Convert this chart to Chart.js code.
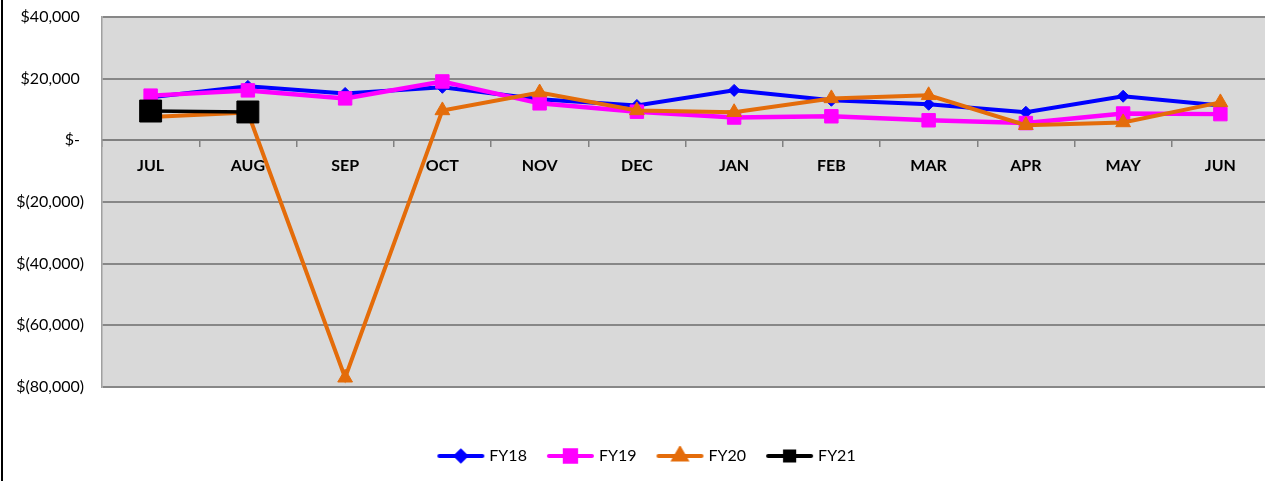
<!DOCTYPE html>
<html>
<head>
<meta charset="utf-8">
<script src="https://cdn.jsdelivr.net/npm/chart.js@4.4.1/dist/chart.umd.min.js"></script>
<style>
  html, body { margin: 0; padding: 0; background: #fff; overflow: hidden; }
  #wrap { position: relative; width: 1265px; height: 481px; overflow: hidden; }
  #frame { position: absolute; left: 1px; top: 0; width: 2px; height: 481px; background: #000; }
  canvas { position: absolute; left: 0; top: 0; }
</style>
</head>
<body>
<div id="wrap">
  <canvas id="chart" width="1296" height="481"></canvas>
  <div id="frame"></div>
</div>
<script>
const months = ['JUL', 'AUG', 'SEP', 'OCT', 'NOV', 'DEC', 'JAN', 'FEB', 'MAR', 'APR', 'MAY', 'JUN'];
const fy18 = [14000, 17500, 15200, 17200, 13300, 11300, 16200, 13000, 11700, 9100, 14300, 11300];
const fy19 = [14500, 16200, 13600, 19100, 12000, 9300, 7400, 7800, 6500, 5600, 8700, 8500];
const fy20 = [7600, 9000, -77000, 9700, 15500, 9700, 9100, 13600, 14600, 4900, 5800, 12300];
const fy21 = [9500, 9200];
const yTicks = [40000, 20000, 0, -20000, -40000, -60000, -80000];

const series = [
  { label: 'FY18', data: fy18, color: '#0000FF', style: 'rectRot', radius: 6, width: 4, order: 3, legendRadius: 5 },
  { label: 'FY19', data: fy19, color: '#FF00FF', style: 'rect', radius: 9.5, width: 4.5, order: 2, legendRadius: 8 },
  { label: 'FY20', data: fy20, color: '#E46C0A', style: 'triangle', radius: 8.5, width: 4, order: 1, legendRadius: 7 },
  { label: 'FY21', data: fy21, color: '#000000', style: 'rect', radius: 15.5, width: 3.5, order: 0, legendRadius: 6.5 },
];

// money format like the spreadsheet: $40,000 / $- / $(20,000)
function money(v) {
  if (v === 0) return '$- ';
  const s = Math.abs(v).toLocaleString('en-US');
  return v < 0 ? '$(' + s + ')' : '$' + s + ' ';
}

// legend key: a short line with the marker in the middle
function legendIcon(s) {
  const c = document.createElement('canvas');
  c.width = 49;
  c.height = 20;
  const ctx = c.getContext('2d');
  ctx.strokeStyle = s.color;
  ctx.fillStyle = s.color;
  ctx.lineWidth = 4;
  ctx.lineCap = 'round';
  ctx.beginPath();
  ctx.moveTo(3, 10);
  ctx.lineTo(46, 10);
  ctx.stroke();
  Chart.helpers.drawPoint(ctx, { pointStyle: s.style, radius: s.legendRadius, borderWidth: 1 }, 24.5, 10);
  return c;
}
const icons = series.map(legendIcon);

const plotBackground = {
  id: 'plotBackground',
  beforeDraw(chart) {
    const { ctx, chartArea } = chart;
    ctx.save();
    ctx.fillStyle = '#D9D9D9';
    ctx.fillRect(chartArea.left, chartArea.top, chartArea.right - chartArea.left, chartArea.bottom - chartArea.top);
    ctx.restore();
  },
};

// keep the axes from pushing the plot area around
function noPadding(scale) {
  scale.paddingTop = 0;
  scale.paddingBottom = 0;
  scale.paddingLeft = 0;
  scale.paddingRight = 0;
}

Chart.defaults.font.family = 'Lato, "Open Sans", sans-serif';
Chart.defaults.color = '#000';

new Chart(document.getElementById('chart'), {
  type: 'line',
  data: {
    labels: months,
    datasets: series.map((s) => ({
      label: s.label,
      data: s.data,
      order: s.order,
      borderColor: s.color,
      backgroundColor: s.color,
      borderWidth: s.width,
      tension: 0,
      pointStyle: s.style,
      pointRadius: s.radius,
      pointHoverRadius: s.radius,
      pointBorderWidth: 1,
      pointBackgroundColor: s.color,
      pointBorderColor: s.color,
    })),
  },
  options: {
    responsive: false,
    animation: false,
    layout: { autoPadding: false, padding: { left: 0, top: 17, right: 0, bottom: 7 } },
    scales: {
      x: {
        position: { y: 0 },
        offset: true,
        afterFit: noPadding,
        grid: { drawOnChartArea: false, offset: true, tickLength: 6, color: '#808080', lineWidth: 1.5 },
        border: { color: '#808080', width: 2 },
        ticks: { padding: 10, font: { size: 16, weight: 'bold' }, color: '#000', maxRotation: 0 },
      },
      y: {
        min: -80000,
        max: 40000,
        afterBuildTicks: (scale) => {
          scale.ticks = yTicks.map((v) => ({ value: v }));
        },
        afterFit: (scale) => {
          noPadding(scale);
          scale.width = 102;
        },
        grid: { color: '#878787', lineWidth: 2, drawTicks: false },
        border: { color: '#A0A0A0', width: 1.5 },
        ticks: { padding: 18, font: { size: 16 }, color: '#000', callback: (v) => money(v) },
      },
      // empty strip on the right, past the window edge, so the legend sits where it did
      spacer: {
        type: 'linear',
        position: 'right',
        afterFit: (scale) => {
          noPadding(scale);
          scale.width = 27;
        },
        grid: { display: false },
        border: { display: false },
        ticks: { display: false },
      },
    },
    plugins: {
      tooltip: { enabled: false },
      legend: {
        position: 'bottom',
        title: { display: true, text: ' ', font: { size: 1, lineHeight: '38px' }, padding: 0 },
        labels: {
          usePointStyle: true,
          pointStyleWidth: 41,
          padding: 23,
          font: { size: 16 },
          color: '#000',
          sort: (a, b) => a.datasetIndex - b.datasetIndex,
          generateLabels: (chart) =>
            Chart.defaults.plugins.legend.labels.generateLabels(chart).map((item) => ({
              ...item,
              pointStyle: icons[item.datasetIndex],
            })),
        },
      },
    },
  },
  plugins: [plotBackground],
});
</script>
</body>
</html>
